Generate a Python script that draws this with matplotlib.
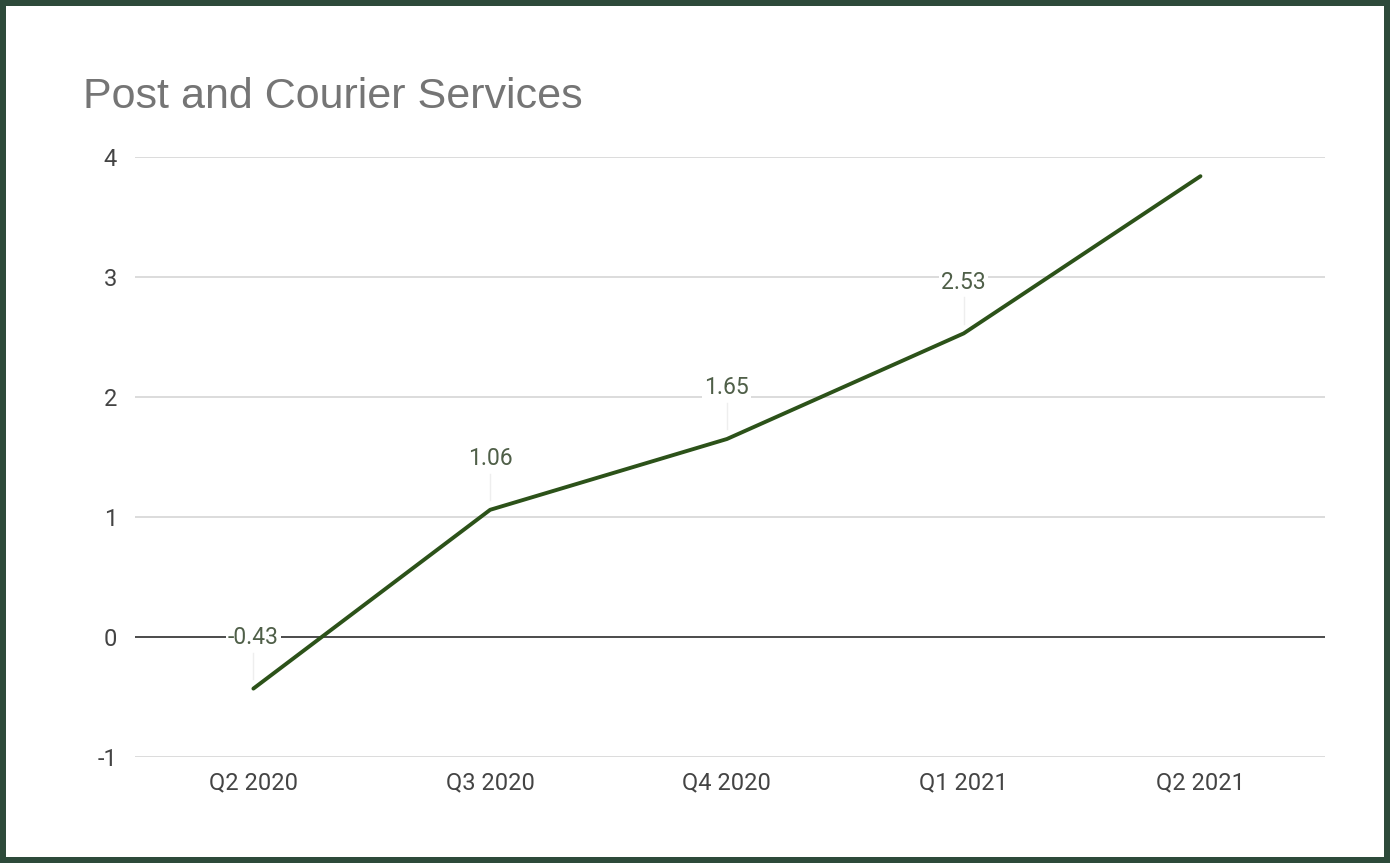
import matplotlib.pyplot as plt
from matplotlib.patches import Rectangle

plt.rcParams['axes.unicode_minus'] = False

# data
quarters = ['Q2 2020', 'Q3 2020', 'Q4 2020', 'Q1 2021', 'Q2 2021']
values = [-0.43, 1.06, 1.65, 2.53, 3.84]
labels = ['-0.43', '1.06', '1.65', '2.53', '']

line_color = '#2c5219'
border_color = '#2d4a3a'

fig = plt.figure(figsize=(13.9, 8.63), dpi=100)
fig.patch.set_facecolor(border_color)
# white card inside the dark green border
fig.patches.append(Rectangle((6 / 1390, 6 / 863), 1 - 12 / 1390, 1 - 12 / 863,
                             transform=fig.transFigure, facecolor='white',
                             edgecolor='none', zorder=-10))

ax = fig.add_axes([135 / 1390, 1 - 757 / 863, 1190 / 1390, 600 / 863])
ax.set_facecolor('none')

x = list(range(len(quarters)))
ax.plot(x, values, color=line_color, linewidth=2.8, solid_capstyle='round', zorder=4)

# data labels with faint leader lines
for xi, v, lab in zip(x, values, labels):
    if not lab:
        continue
    ax.plot([xi, xi], [v + 0.08, v + 0.3], color='#eeeeee', linewidth=1, zorder=2)
    ax.annotate(lab, (xi, v), xytext=(0, 37), textcoords='offset points',
                ha='center', va='center', fontsize=16.5, color='#4f5f48',
                family='Roboto', zorder=5,
                bbox=dict(facecolor='white', edgecolor='none', pad=1.5))

ax.set_xlim(-0.5, 4.526)
ax.set_ylim(-1, 4)
ax.set_yticks([-1, 0, 1, 2, 3, 4])
ax.set_xticks(x)
ax.set_xticklabels(quarters)

ax.grid(axis='y', color='#d6d6d6', linewidth=1.2, zorder=0)
ax.axhline(0, color='#333333', linewidth=1.2, zorder=1)
for s in ax.spines.values():
    s.set_visible(False)
ax.tick_params(axis='both', length=0, labelsize=17, colors='#444444', labelfontfamily='Roboto')
ax.tick_params(axis='y', pad=13)
ax.tick_params(axis='x', pad=10)
ax.set_axisbelow(True)

fig.text(83 / 1390, 1 - 97 / 863, 'Post and Courier Services', fontsize=31,
         color='#757575', family='Liberation Sans', ha='left', va='center')

fig.savefig('out.png', dpi=100, facecolor=fig.get_facecolor())
